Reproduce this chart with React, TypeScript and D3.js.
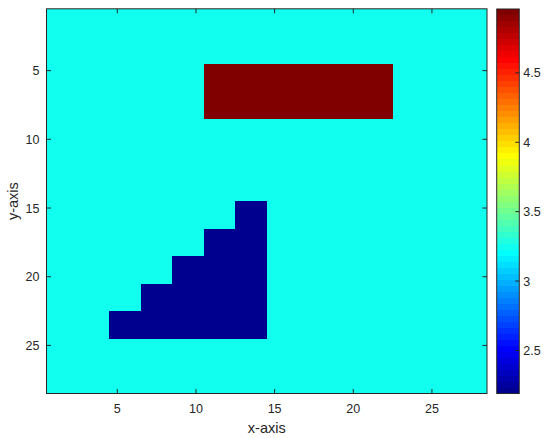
import React from "react";
import * as d3 from "d3";

// ---- data ----
const xTicks = [5, 10, 15, 20, 25];
const yTicks = [5, 10, 15, 20, 25];
const colorTicks = [2.5, 3, 3.5, 4, 4.5];
const colorMin = 2.19;
const colorMax = 4.96;
// value levels used in the grid
const levelKeys = [".", "H", "L"];
const levelValues = [3.25, 4.96, 2.19];
// 28 x 28 matrix, row 1 at top
const gridRows = [
  "............................",
  "............................",
  "............................",
  "............................",
  "..........HHHHHHHHHHHH......",
  "..........HHHHHHHHHHHH......",
  "..........HHHHHHHHHHHH......",
  "..........HHHHHHHHHHHH......",
  "............................",
  "............................",
  "............................",
  "............................",
  "............................",
  "............................",
  "............LL..............",
  "............LL..............",
  "..........LLLL..............",
  "..........LLLL..............",
  "........LLLLLL..............",
  "........LLLLLL..............",
  "......LLLLLLLL..............",
  "......LLLLLLLL..............",
  "....LLLLLLLLLL..............",
  "....LLLLLLLLLL..............",
  "............................",
  "............................",
  "............................",
  "............................",
];

// ---- jet colormap (MATLAB, 64 entries) ----
const NC = 64;
function u(i: number) {
  if (i < 1 || i > 47) return 0;
  if (i <= 16) return i / 16;
  if (i <= 31) return 1;
  return (48 - i) / 16;
}
function jet(k: number) {
  const r = Math.round(u(k - 24) * 255);
  const g = Math.round(u(k - 8) * 255);
  const b = Math.round(u(k + 8) * 255);
  return `rgb(${r},${g},${b})`;
}
function colorFor(v: number) {
  let idx = Math.floor(((v - colorMin) / (colorMax - colorMin)) * NC) + 1;
  idx = Math.max(1, Math.min(NC, idx));
  return jet(idx);
}

const W = 550;
const H = 438;
const plot = { left: 46.5, right: 487, top: 8.8, bottom: 393.5 };
const cbar = { left: 496.7, right: 519.3, top: 9, bottom: 393.5 };
const ink = "#262626";
const font = "'Liberation Sans', Arial, Helvetica, sans-serif";

export default function App() {
  const nRows = gridRows.length;
  const nCols = gridRows[0].length;
  const x = d3.scaleLinear().domain([0.5, nCols + 0.5]).range([plot.left, plot.right]);
  const y = d3.scaleLinear().domain([0.5, nRows + 0.5]).range([plot.top, plot.bottom]);
  const cy = d3.scaleLinear().domain([colorMin, colorMax]).range([cbar.bottom, cbar.top]);

  const cells: React.ReactNode[] = [];
  gridRows.forEach((row, ri) => {
    for (let ci = 0; ci < row.length; ci++) {
      const v = levelValues[levelKeys.indexOf(row[ci])];
      const r = ri + 1;
      const c = ci + 1;
      cells.push(
        <rect
          key={`${r}-${c}`}
          x={x(c - 0.5)}
          y={y(r - 0.5)}
          width={x(c + 0.5) - x(c - 0.5) + 0.3}
          height={y(r + 0.5) - y(r - 0.5) + 0.3}
          fill={colorFor(v)}
        />
      );
    }
  });

  const cbarRects = d3.range(1, NC + 1).map((k) => {
    const v0 = colorMin + ((k - 1) / NC) * (colorMax - colorMin);
    const v1 = colorMin + (k / NC) * (colorMax - colorMin);
    return (
      <rect
        key={k}
        x={cbar.left}
        y={cy(v1)}
        width={cbar.right - cbar.left}
        height={cy(v0) - cy(v1) + 0.3}
        fill={jet(k)}
      />
    );
  });

  const tl = 4.5;
  return (
    <svg
      width={W}
      height={H}
      style={{ position: "absolute", left: 0, top: 0, background: "#fff" }}
      fontFamily={font}
    >
      <g shapeRendering="crispEdges">{cells}</g>
      {/* axes box */}
      <rect
        x={plot.left}
        y={plot.top}
        width={plot.right - plot.left}
        height={plot.bottom - plot.top}
        fill="none"
        stroke={ink}
        strokeWidth={1}
      />
      {xTicks.map((t) => (
        <g key={`xt${t}`}>
          <line x1={x(t)} x2={x(t)} y1={plot.bottom} y2={plot.bottom - tl} stroke={ink} />
          <line x1={x(t)} x2={x(t)} y1={plot.top} y2={plot.top + tl} stroke={ink} />
          <text x={x(t)} y={413.3} textAnchor="middle" fontSize={12.5} fill={ink}>
            {t}
          </text>
        </g>
      ))}
      {yTicks.map((t) => (
        <g key={`yt${t}`}>
          <line x1={plot.left} x2={plot.left + tl} y1={y(t)} y2={y(t)} stroke={ink} />
          <line x1={plot.right} x2={plot.right - tl} y1={y(t)} y2={y(t)} stroke={ink} />
          <text x={39.5} y={y(t)} dy="0.36em" textAnchor="end" fontSize={12.5} fill={ink}>
            {t}
          </text>
        </g>
      ))}
      <text x={(plot.left + plot.right) / 2} y={432.7} textAnchor="middle" fontSize={14.5} fill={ink}>
        x-axis
      </text>
      <text
        transform={`translate(18.3,${(plot.top + plot.bottom) / 2}) rotate(-90)`}
        textAnchor="middle"
        fontSize={14.5}
        fill={ink}
      >
        y-axis
      </text>
      {/* colorbar */}
      <g shapeRendering="crispEdges">{cbarRects}</g>
      <rect
        x={cbar.left}
        y={cbar.top}
        width={cbar.right - cbar.left}
        height={cbar.bottom - cbar.top}
        fill="none"
        stroke={ink}
        strokeWidth={1}
      />
      {colorTicks.map((t) => (
        <g key={`ct${t}`}>
          <line x1={cbar.right} x2={cbar.right - 4} y1={cy(t)} y2={cy(t)} stroke={ink} />
          <text x={523.3} y={cy(t)} dy="0.36em" textAnchor="start" fontSize={12.5} fill={ink}>
            {t}
          </text>
        </g>
      ))}
    </svg>
  );
}
